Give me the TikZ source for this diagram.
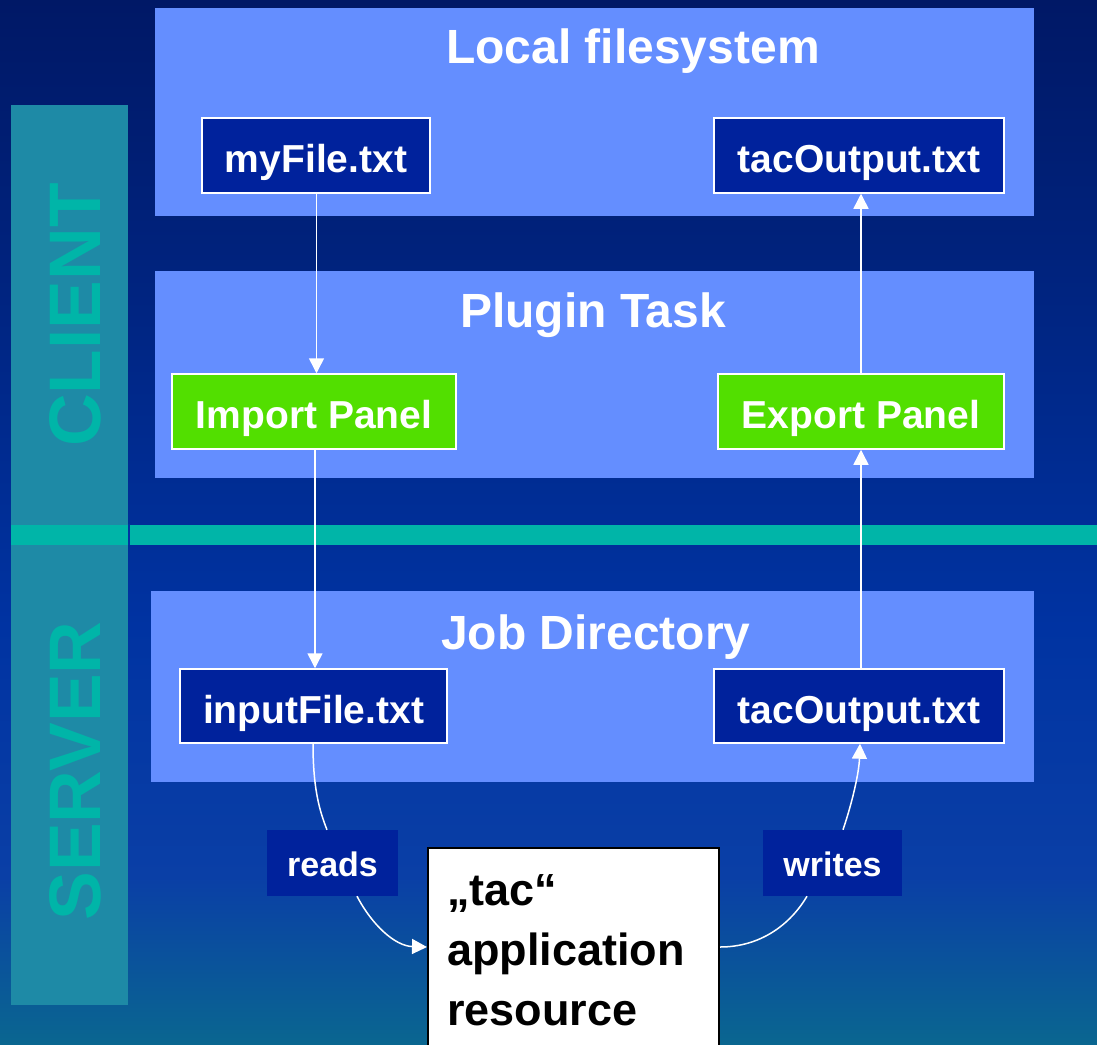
\documentclass[tikz,border=0pt]{standalone}
\usepackage{fontspec}
\setmainfont{Liberation Sans}
\usetikzlibrary{arrows.meta}

% slide colours
\definecolor{bgtop}{HTML}{001866}
\definecolor{bgup}{HTML}{00237E}
\definecolor{bgmid}{HTML}{0033A2}
\definecolor{bglow}{HTML}{0A3FA6}
\definecolor{bgbot}{HTML}{0A6690}
\definecolor{panelblue}{HTML}{648EFF}
\definecolor{fileblue}{HTML}{00229C}
\definecolor{panelgreen}{HTML}{52DF00}
\definecolor{sideteal}{HTML}{00B5A8}
\definecolor{sidegrain}{HTML}{1E8AA6}

\pgfdeclareverticalshading{slidebg}{100bp}{%
  color(0bp)=(bgbot); color(25bp)=(bgbot); color(33bp)=(bglow);
  color(45bp)=(bgmid); color(62bp)=(bgup); color(75bp)=(bgtop);
  color(100bp)=(bgtop)}

\begin{document}
\begin{tikzpicture}[x=1pt,y=-1pt,
  panel/.style={fill=panelblue, draw=none, inner sep=0pt, anchor=north west},
  paneltitle/.style={text=white, anchor=base, inner sep=0pt,
    font=\bfseries\fontsize{48pt}{48pt}\selectfont},
  filebox/.style={draw=white, line width=1.5pt, fill=fileblue, text=white,
    inner sep=0pt, text height=34pt, text depth=0pt, minimum height=75,
    font=\bfseries\fontsize{39pt}{39pt}\selectfont},
  greenbox/.style={filebox, fill=panelgreen},
  tagbox/.style={fill=fileblue, text=white, inner sep=0pt,
    text height=27pt, text depth=0pt, minimum height=66,
    font=\bfseries\fontsize{34pt}{34pt}\selectfont},
  sidelabel/.style={text=sideteal, rotate=90, inner sep=0pt,
    font=\bfseries\fontsize{73pt}{73pt}\selectfont},
  link/.style={draw=white, line width=1.5pt},
  flow/.style={link, -{Triangle[length=15pt,width=15pt]}}]

\useasboundingbox (0,0) rectangle (1097,1044);
\shade[shading=slidebg] (0,0) rectangle (1097,1044);

% client / server side bar
\node[fill=sidegrain, anchor=north west, inner sep=0pt,
      minimum width=117, minimum height=900] (sidebar) at (11,105) {};
\node[sidelabel] (client) at (75,315) {CLIENT};
\node[sidelabel] (server) at (75,771) {SERVER};
\fill[sideteal] (11,525) rectangle (1097,545);
\fill[bgmid] (128,524) rectangle (130,545);

% panels
\node[panel, minimum width=879, minimum height=208] (localfs) at (155,8) {};
\node[panel, minimum width=879, minimum height=207] (plugin) at (155,271) {};
\node[panel, minimum width=883, minimum height=191] (jobdir) at (151,591) {};
\node[paneltitle] (localfstitle) at (633,63) {Local filesystem};
\node[paneltitle] (plugintitle) at (593,327) {Plugin Task};
\node[paneltitle] (jobdirtitle) at (596,649) {Job Directory};

% files and panels
\node[filebox, minimum width=228] (myfile) at (316,155.5) {myFile.txt};
\node[filebox, minimum width=290] (tacout) at (859,155.5) {tacOutput.txt};
\node[greenbox, minimum width=284] (import) at (314,411.5) {Import Panel};
\node[greenbox, minimum width=286] (export) at (861,411.5) {Export Panel};
\node[filebox, minimum width=267, minimum height=74] (input) at (313.5,706) {inputFile.txt};
\node[filebox, minimum width=290, minimum height=74] (joboutput) at (859,706) {tacOutput.txt};

% application resource
\node[draw=black, line width=2pt, fill=white, anchor=north west, inner sep=0pt,
      minimum width=291, minimum height=220] (tac) at (427,847) {};
\node[anchor=base west, inner sep=0pt] (tactext) at (447,905)
  {\parbox[t]{260pt}{\raggedright\bfseries\fontsize{45pt}{60pt}\selectfont
   „tac“\\application\\resource}};

% action labels
\node[tagbox, minimum width=131] (reads) at (332.5,863) {reads};
\node[tagbox, minimum width=139] (writes) at (832.5,863) {writes};

% data flow
\draw[flow] ([xshift=0.5pt]myfile.south) -- ([xshift=0.5pt]myfile.south |- import.north);
\draw[flow] ([xshift=1pt]import.south) -- ([xshift=1pt]import.south |- input.north);
\draw[flow] (export.north) -- (export.north |- tacout.south);
\draw[flow] (export.south |- joboutput.north) -- (export.south);

\draw[link] ([xshift=-0.5pt]input.south) .. controls (313,790) and (320,812) .. ([xshift=-5.5pt]reads.north);
\draw[flow] ([xshift=24.5pt]reads.south) .. controls (372,925) and (395,946) .. ([yshift=-100pt]tac.north west);
\draw[link] ([yshift=-100pt]tac.north east) .. controls (760,947) and (790,925) .. ([xshift=-25.5pt]writes.south);
\draw[flow] ([xshift=10.5pt]writes.north) .. controls (853,800) and (859,772) .. ([xshift=1pt]joboutput.south);
\end{tikzpicture}
\end{document}
